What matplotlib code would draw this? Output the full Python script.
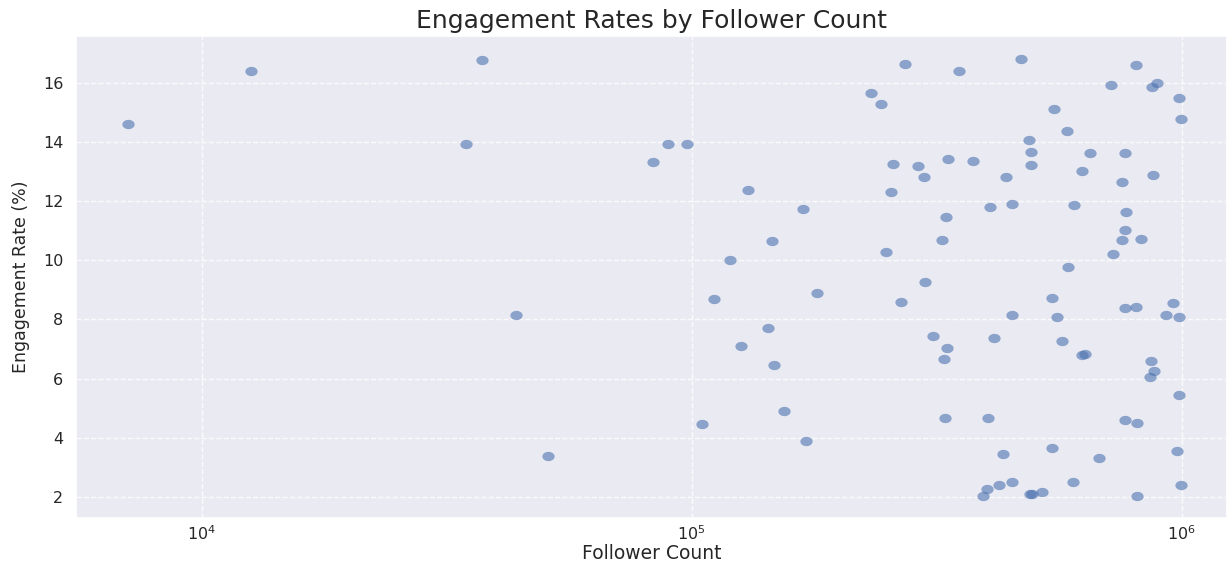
import numpy as np
import matplotlib
matplotlib.use("Agg")
import matplotlib.pyplot as plt
from matplotlib.path import Path
import seaborn as sns

# Follower counts of the sampled accounts
followers = [
    7080, 12630, 37400, 34600, 43900, 50800,
    83500, 89600, 97800, 130000, 169000, 145600, 119900,
    232700, 243300, 272200, 257700, 290100, 297500, 255100, 249200,
    350800, 469900, 807000, 718000, 871000, 891000, 987000, 997000,
    549500, 583400, 488700, 492500, 492000, 333400, 375000, 438100,
    648600, 765000, 625000, 755900, 873700, 406400, 450600, 602000,
    330900, 768700, 767000, 754600, 826000, 722600, 323600, 587000,
    111000, 180400, 267800, 299300, 142900, 126100, 147300, 154200,
    105100, 171000,
    544600, 450600, 557000, 765600, 805400, 958600, 931000, 989000,
    311200, 332400, 326700, 414600, 570600, 626000, 633900,
    865000, 879000, 861000, 989000,
    329500, 402900, 765600, 809000,
    432500, 544600, 677000, 977000,
    400700, 393700, 424700, 450700, 489800, 494000, 518700, 599200,
    810700, 997000,
]

# Engagement rate (%) for each account
engagement = [
    14.62, 16.41, 16.78, 13.93, 8.16, 3.38,
    13.32, 13.94, 13.93, 12.39, 11.72, 10.65, 10.00,
    15.66, 15.28, 16.65, 13.24, 13.18, 12.82, 12.31, 10.28,
    16.39, 16.81, 16.60, 15.93, 15.86, 16.00, 15.47, 14.77,
    15.12, 14.37, 14.06, 13.66, 13.21, 13.42, 13.34, 12.81,
    13.62, 13.62, 13.02, 12.65, 12.89, 11.81, 11.90, 11.88,
    11.45, 11.63, 11.01, 10.69, 10.72, 10.22, 10.69, 9.76,
    8.69, 8.90, 8.60, 9.27, 7.72, 7.10, 6.47, 4.91,
    4.45, 3.89,
    8.73, 8.14, 8.07, 8.40, 8.42, 8.56, 8.16, 8.07,
    7.43, 7.05, 6.68, 7.37, 7.28, 6.79, 6.83,
    6.60, 6.26, 6.07, 5.43,
    4.66, 4.68, 4.60, 4.51,
    3.46, 3.67, 3.33, 3.55,
    2.26, 2.04, 2.41, 2.49, 2.09, 2.09, 2.16, 2.51,
    2.04, 2.41,
]

sns.set_theme(style="darkgrid")
plt.rcParams["font.family"] = ["DejaVu Sans"]

W, H = 1227, 561
fig = plt.figure(figsize=(W / 100, H / 100), dpi=100)
left, right, top, bottom = 76, 1227, 36, 517.7
ax = fig.add_axes([left / W, (H - bottom) / H, (right - left) / W, (bottom - top) / H])

# slightly wide oval marker
t = np.linspace(0, 2 * np.pi, 60)
oval = Path(np.column_stack([np.cos(t), 0.76 * np.sin(t)]), closed=True)

ax.scatter(followers, engagement, s=78, marker=oval, color="#4C72B0",
           alpha=0.6, linewidths=0)

ax.set_xscale("log")
ax.set_xlim(10 ** 3.7435, 10 ** 6.0925)
ax.set_ylim(1.30, 17.58)
ax.set_yticks([2, 4, 6, 8, 10, 12, 14, 16])
ax.minorticks_off()

ax.grid(True, which="major", linestyle="--", color="white", alpha=0.8, linewidth=1)

ax.tick_params(axis="both", length=0, labelsize=11.5, colors=".15")
ax.tick_params(axis="y", pad=9.2)
ax.tick_params(axis="x", pad=5)

ax.set_title("Engagement Rates by Follower Count", fontsize=18, color=".15", pad=6)
ax.set_xlabel("Follower Count", fontsize=13.5, color=".15")
ax.set_ylabel("Engagement Rate (%)", fontsize=12.5, color=".15")
ax.xaxis.set_label_coords(0.5, (bottom - 544) / (bottom - top))
ax.yaxis.set_label_coords((30 - left) / (right - left), 0.5)

fig.savefig("out.png", dpi=100)
